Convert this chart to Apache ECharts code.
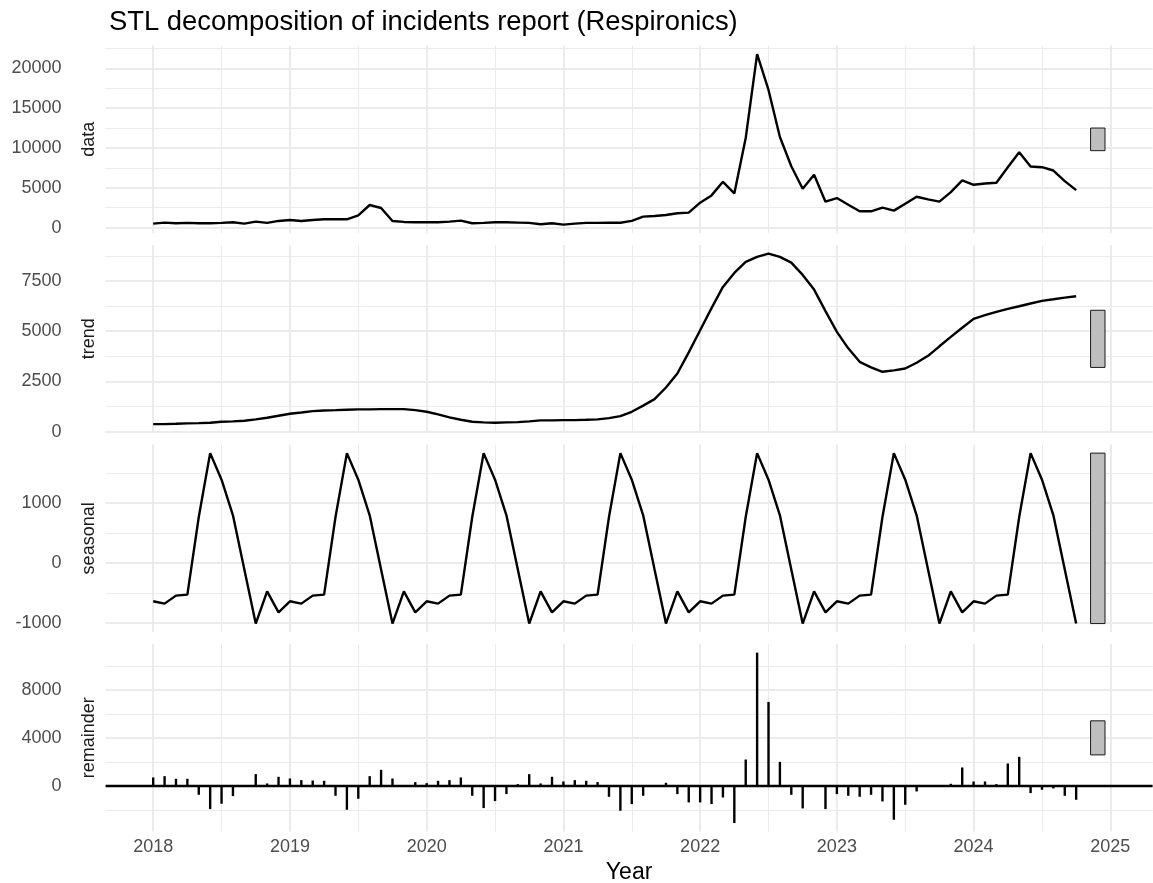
<!DOCTYPE html>
<html>
<head>
<meta charset="utf-8">
<title>STL decomposition of incidents report (Respironics)</title>
<script src="https://cdn.jsdelivr.net/npm/echarts@6/dist/echarts.min.js"></script>
<style>
  html, body { margin: 0; padding: 0; background: #fff; }
  #chart { width: 1153px; height: 883px; }
</style>
</head>
<body>
<div id="chart"></div>
<script>
// monthly values, Jan 2018 .. Oct 2024
const startYear = 2018;

const dataValues = [
  500, 625, 542, 583, 542, 542, 583, 667, 500, 750, 583, 833,
  958, 833, 958, 1042, 1042, 1042, 1542, 2833, 2458, 833, 708, 667,
  667, 667, 750, 875, 542, 583, 667, 667, 625, 583, 417, 542,
  375, 500, 583, 583, 625, 600, 833, 1375, 1458, 1583, 1792, 1875,
  3125, 4042, 5750, 4292, 11250, 21790, 17290, 11375, 7708, 4875, 6625, 3250,
  3708, 2875, 2042, 2042, 2500, 2125, 3000, 3875, 3542, 3250, 4458, 5917,
  5375, 5542, 5625, 7583, 9458, 7667, 7583, 7167, 5833, 4708
];

const trendValues = [
  381, 381, 397, 414, 430, 447, 497, 513, 546, 613, 696, 795,
  894, 960, 1027, 1060, 1076, 1093, 1110, 1110, 1126, 1126, 1126, 1076,
  994, 861, 712, 596, 497, 464, 447, 464, 480, 513, 563, 563,
  580, 580, 596, 613, 679, 778, 994, 1300, 1623, 2200, 2898, 3950,
  5051, 6150, 7204, 7900, 8446, 8700, 8860, 8700, 8412, 7800, 7071, 6000,
  4968, 4150, 3478, 3200, 2981, 3050, 3146, 3430, 3776, 4250, 4720, 5170,
  5614, 5800, 5962, 6110, 6243, 6380, 6508, 6590, 6674, 6740
];

const seasonalValues = [
  -638, -677, -544, -527, 767, 1833, 1390, 795, -110, -1010, -472, -822,
  -638, -677, -544, -527, 767, 1833, 1390, 795, -110, -1010, -472, -822,
  -638, -677, -544, -527, 767, 1833, 1390, 795, -110, -1010, -472, -822,
  -638, -677, -544, -527, 767, 1833, 1390, 795, -110, -1010, -472, -822,
  -638, -677, -544, -527, 767, 1833, 1390, 795, -110, -1010, -472, -822,
  -638, -677, -544, -527, 767, 1833, 1390, 795, -110, -1010, -472, -822,
  -638, -677, -544, -527, 767, 1833, 1390, 795, -110, -1010
];

const remainderValues = [
  694, 805, 583, 583, -750, -1944, -1500, -861, -50, 972, 194, 750,
  611, 472, 444, 417, -833, -2000, -1083, 805, 1333, 611, -20, 306,
  222, 417, 472, 694, -833, -1861, -1278, -694, 139, 972, 194, 750,
  361, 472, 417, 306, -917, -2083, -1528, -833, -30, 250, -694, -1389,
  -1389, -1528, -972, -3111, 2194, 11111, 7000, 2000, -750, -1889, 20, -1944,
  -694, -833, -917, -750, -1306, -2833, -1583, -472, -80, 10, 167, 1528,
  361, 361, 139, 1861, 2417, -611, -333, -222, -833, -1167
];

const yearTicks = [2018, 2019, 2020, 2021, 2022, 2023, 2024, 2025];
const halfYearTicks = [2018.5, 2019.5, 2020.5, 2021.5, 2022.5, 2023.5, 2024.5];

const dataTicks = [0, 5000, 10000, 15000, 20000];
const dataMinorTicks = [2500, 7500, 12500, 17500, 22500];
const trendTicks = [0, 2500, 5000, 7500];
const trendMinorTicks = [1250, 3750, 6250, 8750];
const seasonalTicks = [-1000, 0, 1000];
const seasonalMinorTicks = [-1500, -500, 500, 1500];
const remainderTicks = [0, 4000, 8000];
const remainderMinorTicks = [-2000, 2000, 6000, 10000];

const FONT = '"Liberation Sans", Arial, sans-serif';

const xs = dataValues.map((_, i) => startYear + i / 12);
const pairs = vals => vals.map((v, i) => [xs[i], v]);

// range bar (same length in every panel = seasonal range)
const xFirst = xs[0], xLast = xs[xs.length - 1];
const barW = (xLast - xFirst) / 64;
const boxX0 = xLast + barW, boxX1 = xLast + 2 * barW;
const xPad = 0.05 * (boxX1 - xFirst);
const xMin = xFirst - xPad, xMax = boxX1 + xPad;
const seasonalRange = Math.max(...seasonalValues) - Math.min(...seasonalValues);

const panels = [
  { name: 'data', values: dataValues, major: dataTicks, minor: dataMinorTicks, kind: 'line' },
  { name: 'trend', values: trendValues, major: trendTicks, minor: trendMinorTicks, kind: 'line' },
  { name: 'seasonal', values: seasonalValues, major: seasonalTicks, minor: seasonalMinorTicks, kind: 'line' },
  { name: 'remainder', values: remainderValues, major: remainderTicks, minor: remainderMinorTicks, kind: 'bar' }
];

const gridTops = [45.6, 245.1, 444.6, 644.1];
const gridH = 187.5;

const grids = [], xAxes = [], yAxes = [], series = [];

panels.forEach((p, i) => {
  const lo = Math.min(...p.values), hi = Math.max(...p.values);
  const mid = (lo + hi) / 2;
  const bLo = mid - seasonalRange / 2, bHi = mid + seasonalRange / 2;
  const eLo = Math.min(lo, bLo), eHi = Math.max(hi, bHi);
  const pad = 0.05 * (eHi - eLo);
  const yMin = eLo - pad, yMax = eHi + pad;

  grids.push({
    left: 105.6, width: 1047, top: gridTops[i], height: gridH,
    containLabel: false, outerBoundsMode: 'none'
  });

  xAxes.push({
    type: 'value', gridIndex: i, min: xMin, max: xMax, position: 'bottom',
    axisLine: { show: false },
    axisTick: { show: false, customValues: yearTicks },
    axisLabel: {
      show: i === 3, customValues: yearTicks, formatter: v => String(v),
      fontSize: 18, color: '#4d4d4d', fontFamily: FONT, margin: 6
    },
    splitLine: { show: true, lineStyle: { color: '#ebebeb', width: 2 } },
    name: i === 3 ? 'Year' : '', nameLocation: 'middle', nameGap: 30,
    nameMoveOverlap: false,
    nameTextStyle: { fontSize: 23, color: '#000', fontFamily: FONT }
  });
  xAxes.push({
    type: 'value', gridIndex: i, min: xMin, max: xMax, position: 'top',
    axisLine: { show: false },
    axisTick: { show: false, customValues: halfYearTicks },
    axisLabel: { show: false },
    splitLine: { show: true, lineStyle: { color: '#ebebeb', width: 1 } }
  });

  yAxes.push({
    type: 'value', gridIndex: i, min: yMin, max: yMax, position: 'left',
    axisLine: { show: false },
    axisTick: { show: false, customValues: p.major },
    axisLabel: {
      customValues: p.major, formatter: v => String(v),
      fontSize: 18, color: '#4d4d4d', fontFamily: FONT, margin: 44
    },
    splitLine: { show: true, lineStyle: { color: '#ebebeb', width: 2 } },
    name: p.name, nameLocation: 'middle', nameRotate: 90, nameGap: 7.5,
    nameMoveOverlap: false,
    nameTextStyle: { fontSize: 18, color: '#1a1a1a', fontFamily: FONT }
  });
  yAxes.push({
    type: 'value', gridIndex: i, min: yMin, max: yMax, position: 'right',
    axisLine: { show: false },
    axisTick: { show: false, customValues: p.minor },
    axisLabel: { show: false },
    splitLine: { show: true, lineStyle: { color: '#ebebeb', width: 1 } }
  });

  if (p.kind === 'line') {
    series.push({
      type: 'line', xAxisIndex: 2 * i, yAxisIndex: 2 * i,
      data: pairs(p.values), showSymbol: false, symbol: 'none',
      lineStyle: { color: '#000', width: 2.4 }, z: 3
    });
  } else {
    series.push({
      type: 'bar', xAxisIndex: 2 * i, yAxisIndex: 2 * i,
      data: pairs(p.values), barWidth: 2.4,
      itemStyle: { color: '#000' }, z: 3,
      markLine: {
        silent: true, symbol: 'none', label: { show: false },
        lineStyle: { color: '#000', width: 2.4, type: 'solid' },
        data: [{ yAxis: 0 }]
      }
    });
  }

  series.push({
    type: 'custom', xAxisIndex: 2 * i, yAxisIndex: 2 * i, z: 4,
    encode: { x: [0, 1], y: [2, 3] },
    data: [[boxX0, boxX1, bLo, bHi]],
    renderItem: (params, api) => {
      const a = api.coord([api.value(0), api.value(3)]);
      const b = api.coord([api.value(1), api.value(2)]);
      return {
        type: 'rect',
        shape: { x: a[0], y: a[1], width: b[0] - a[0], height: b[1] - a[1] },
        style: { fill: '#bebebe', stroke: '#1a1a1a', lineWidth: 1 }
      };
    }
  });
});

const chart = echarts.init(document.getElementById('chart'), null, { renderer: 'canvas' });
chart.setOption({
  animation: false,
  backgroundColor: '#fff',
  title: {
    text: 'STL decomposition of incidents report (Respironics)',
    left: 104, top: 4,
    textStyle: { fontSize: 27.4, fontWeight: 'normal', color: '#000', fontFamily: FONT }
  },
  grid: grids,
  xAxis: xAxes,
  yAxis: yAxes,
  series: series
});
</script>
</body>
</html>
